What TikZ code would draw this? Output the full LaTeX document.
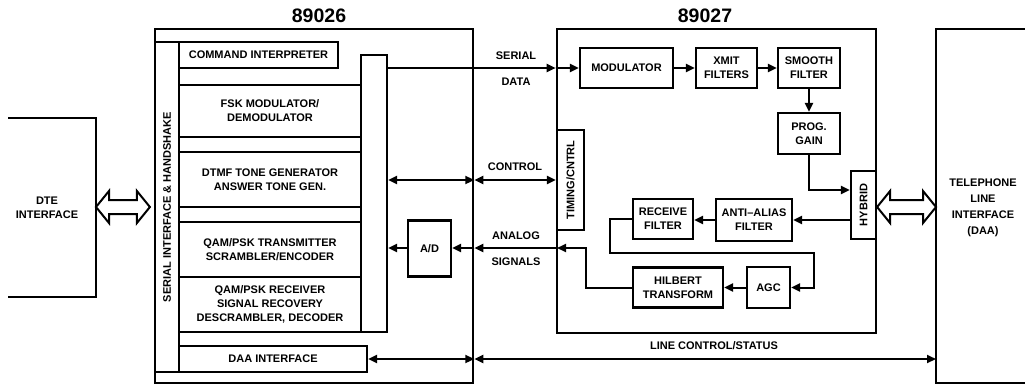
\documentclass[tikz,border=0pt]{standalone}
\usepackage{fontspec}
\setmainfont{Liberation Sans}
\usepackage{tikz}
\usetikzlibrary{arrows.meta, positioning, calc}
\definecolor{mink}{HTML}{000000}
\tikzset{
  blk/.style={draw=mink, line width=2.2pt, align=center, inner sep=0pt,
              font=\fontsize{11}{14}\selectfont\bfseries},
  chipbox/.style={draw=mink, line width=2.6pt, inner sep=0pt},
  lbl/.style={font=\fontsize{11}{14}\selectfont\bfseries, align=center, inner sep=0pt},
  ttl/.style={font=\fontsize{19.5}{22}\selectfont\bfseries, inner sep=0pt},
  arr/.style={-{Triangle[length=9pt,width=8pt]}, line width=2pt, mink},
  darr/.style={{Triangle[length=9pt,width=8pt]}-{Triangle[length=9pt,width=8pt]}, line width=2pt, mink},
  hollow/.style={draw=mink, line width=2pt, fill=white, line join=miter},
}
\newcommand{\hollowarr}[2]{%
  \draw[hollow] (#1) -- ++(13,-16) -- ++(0,9) -- ($(#2)+(-13,-7)$) -- ++(0,-9)
    -- (#2) -- ++(-13,16) -- ++(0,-9) -- ($(#1)+(13,7)$) -- ++(0,9) -- cycle;}

\begin{document}
\begin{tikzpicture}[x=1pt, y=-1pt]
  \useasboundingbox (0,0) rectangle (1025,386);

  \node[ttl] (t26) at (319,16) {89026};
  \node[ttl] (t27) at (705,16) {89027};

  \draw[chipbox] (8,118) -| (96,297) -- (8,297);
  \node[lbl] (dte) at (47,208) {DTE\\INTERFACE};
  \coordinate (dteR) at (96,207);

  \draw[chipbox] (1025,29) -| (936,383) -- (1025,383);
  \node[lbl, font=\fontsize{11}{16}\selectfont\bfseries] (tel) at (983,208) {TELEPHONE\\LINE\\INTERFACE\\(DAA)};
  \coordinate (telL) at (936,207);

  \node[chipbox, minimum width=318, minimum height=354] (c26) at (314,206) {};
  \node[chipbox, minimum width=319, minimum height=304] (c27) at (716.5,181) {};

  \node[blk, minimum width=24, minimum height=330,
        label={[lbl, rotate=90]center:SERIAL INTERFACE \& HANDSHAKE}] (ser) at (167,207) {};
  \node[blk, minimum width=159, minimum height=26] (cmd) at (258.5,55) {COMMAND INTERPRETER};
  \node[blk, minimum width=182, minimum height=52] (fsk) at (270,111) {FSK MODULATOR/\\DEMODULATOR};
  \node[blk, minimum width=182, minimum height=55] (dtmf) at (270,179.5) {DTMF TONE GENERATOR\\ANSWER TONE GEN.};
  \node[blk, minimum width=182, minimum height=55] (qtx) at (270,249.5) {QAM/PSK TRANSMITTER\\SCRAMBLER/ENCODER};
  \node[blk, minimum width=182, minimum height=55] (qrx) at (270,304.5) {QAM/PSK RECEIVER\\SIGNAL RECOVERY\\DESCRAMBLER, DECODER};
  \node[blk, minimum width=188, minimum height=26] (daa) at (273,359) {DAA INTERFACE};
  \node[blk, minimum width=26, minimum height=277] (bus) at (374,193.5) {};
  \node[blk, minimum width=43, minimum height=56] (ad) at (429.5,248.5) {A/D};

  \node[blk, minimum width=27, minimum height=100,
        label={[lbl, rotate=90]center:TIMING/CNTRL}] (tim) at (570.5,180) {};
  \node[blk, minimum width=93, minimum height=40] (mod) at (626.5,68) {MODULATOR};
  \node[blk, minimum width=61, minimum height=40] (xmit) at (726.5,68) {XMIT\\FILTERS};
  \node[blk, minimum width=62, minimum height=40] (smooth) at (809,68) {SMOOTH\\FILTER};
  \node[blk, minimum width=62, minimum height=41] (prog) at (809,133.5) {PROG.\\GAIN};
  \node[blk, minimum width=25, minimum height=68,
        label={[lbl, rotate=90]center:HYBRID}] (hyb) at (863.5,205) {};
  \node[blk, minimum width=76, minimum height=42] (anti) at (754,220) {ANTI--ALIAS\\FILTER};
  \node[blk, minimum width=60, minimum height=40] (recv) at (663,219) {RECEIVE\\FILTER};
  \node[blk, minimum width=43, minimum height=41] (agc) at (768.5,287.5) {AGC};
  \node[blk, minimum width=90, minimum height=40] (hil) at (678,287.5) {HILBERT\\TRANSFORM};

  \coordinate (anIn) at (557,248);
  \coordinate (serL) at ($(ser.west |- dteR)+(-4,0)$);
  \coordinate (hybR) at (hyb.east |- telL);

  \hollowarr{dteR}{serL}
  \hollowarr{hybR}{telL}

  \node[lbl] (lser) at (516,56) {SERIAL};
  \node[lbl] (ldat) at (516,82) {DATA};
  \node[lbl] (lctl) at (515,167) {CONTROL};
  \node[lbl] (lana) at (516,236) {ANALOG};
  \node[lbl] (lsig) at (516,262) {SIGNALS};
  \node[lbl] (lline) at (714,346) {LINE CONTROL/STATUS};

  \draw[arr] (bus.east |- mod.west) -- (c27.west |- mod.west);
  \draw[arr] (c27.west |- mod.west) -- (mod.west);
  \draw[arr] (mod) -- (xmit);
  \draw[arr] (xmit) -- (smooth);
  \draw[arr] (smooth) -- (prog);
  \draw[arr] (prog.south) |- ([yshift=15pt]hyb.west);
  \draw[arr] (hyb.west |- anti.east) -- (anti.east);
  \draw[arr] (anti.west) -- (recv.east |- anti.west);
  \draw[arr] (recv.west) -- ++(-22,0) -- ++(0,34) -| ($(agc.east)+(23,0)$) -- (agc.east);
  \draw[arr] (agc.west) -- (hil.east |- agc.west);
  \draw[arr] (hil.west) -| ++(-46,-39.5) -- (anIn);
  \draw[arr] (anIn) -- (c26.east |- anIn);
  \draw[arr] (c26.east |- anIn) -- (ad.east |- anIn);
  \draw[arr] (ad.west |- anIn) -- (bus.east |- anIn);
  \draw[darr] (bus.east |- tim.west) -- (c26.east |- tim.west);
  \draw[darr] (c26.east |- tim.west) -- (tim.west);
  \draw[darr] (daa.east) -- (c26.east |- daa.east);
  \draw[darr] (c26.east |- daa.east) -- (telL |- daa.east);
\end{tikzpicture}
\end{document}
